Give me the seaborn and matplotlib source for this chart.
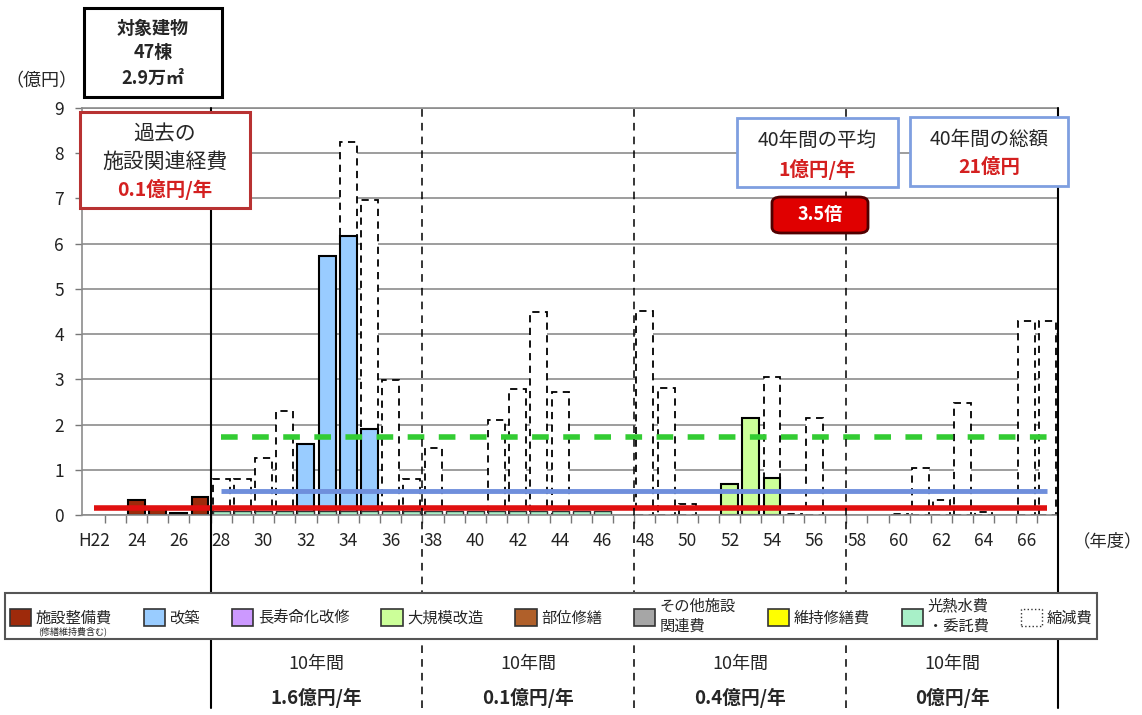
import matplotlib
matplotlib.use("Agg")
import matplotlib.pyplot as plt
from matplotlib.patches import Patch, Rectangle, FancyBboxPatch
import pandas as pd
import seaborn as sns

# --- DATA ---
years = list(range(22, 68))

# 施設整備費 (過去実績)
seibi_years = [24, 25, 26, 27]
seibi_vals = [0.33, 0.17, 0.05, 0.40]

# 改築
kaichiku_years = [32, 33, 34, 35]
kaichiku_vals = [1.50, 5.64, 6.10, 1.83]

# 大規模改造
daikibo_years = [52, 53, 54]
daikibo_vals = [0.69, 2.14, 0.81]

# 光熱水費・委託費 (small amounts at the bottom)
kounetsu_years = [28, 29, 30, 31, 32, 33, 34, 35, 36, 37, 38, 39, 40, 41, 42, 43, 44, 45, 46]
kounetsu_vals = [0.08, 0.08, 0.08, 0.08, 0.08, 0.08, 0.08, 0.08, 0.08, 0.08,
                 0.08, 0.08, 0.08, 0.08, 0.08, 0.08, 0.08, 0.08, 0.08]

# 縮減費 (stacked on top, dashed outline)
reduction_years = [28, 29, 30, 31, 34, 35, 36, 37, 38, 41, 42, 43, 44, 48, 49, 50,
                   54, 55, 56, 60, 61, 62, 63, 64, 66, 67]
reduction_vals = [0.71, 0.71, 1.19, 2.23, 2.07, 5.05, 2.90, 0.71, 1.40, 2.03, 2.70, 4.40, 2.64, 4.52, 2.81, 0.25,
                  2.25, 0.03, 2.14, 0.03, 1.03, 0.34, 2.47, 0.06, 4.29, 4.29]

# reference lines
past_level = 0.15       # 過去の施設関連経費
avg40_level = 0.53      # 40年間の平均
target_level = 1.72     # green dashed

period_starts = [28, 38, 48, 58]
period_texts = ["1.6億円/年", "0.1億円/年", "0.4億円/年", "0億円/年"]

legend_labels = ["施設整備費", "改築", "長寿命化改修", "大規模改造", "部位修繕",
                 "その他施設\n関連費", "維持修繕費", "光熱水費\n・委託費", "縮減費"]
legend_colors = ["#9E2A0B", "#99CCFF", "#CC99FF", "#CCFF99", "#B0602A",
                 "#A6A6A6", "#FFFF00", "#A8F0C8", "white"]

# --- STYLE ---
sns.set_theme(style="white")
plt.rcParams['font.family'] = ['Noto Sans CJK JP', 'DejaVu Sans']

W, H = 1142, 715
fig = plt.figure(figsize=(W / 100, H / 100), dpi=100)


def fx(x):
    return x / W


def fy(y):
    return 1 - y / H


ax = fig.add_axes([fx(82), fy(515), (1058 - 82) / W, (515 - 108) / H])

order = [str(y) for y in years]
kou = dict(zip(kounetsu_years, kounetsu_vals))
main = {}
for ys, vs in [(seibi_years, seibi_vals), (kaichiku_years, kaichiku_vals),
               (daikibo_years, daikibo_vals)]:
    for y, v in zip(ys, vs):
        main[y] = v

# total heights incl. reduction, drawn first (white + dashed)
red_df = pd.DataFrame({
    "year": [str(y) for y in reduction_years],
    "h": [kou.get(y, 0) + main.get(y, 0) + r for y, r in zip(reduction_years, reduction_vals)],
})
sns.barplot(data=red_df, x="year", y="h", order=order, color="white", saturation=1,
            edgecolor="black", linewidth=1.3, linestyle=(0, (4, 3)), errorbar=None, ax=ax)

# main categories
for ys, col in [(seibi_years, legend_colors[0]), (kaichiku_years, legend_colors[1]),
                (daikibo_years, legend_colors[3])]:
    d = pd.DataFrame({"year": [str(y) for y in ys],
                      "h": [kou.get(y, 0) + main[y] for y in ys]})
    sns.barplot(data=d, x="year", y="h", order=order, color=col, saturation=1,
                edgecolor="black", linewidth=1.5, errorbar=None, ax=ax)

kou_df = pd.DataFrame({"year": [str(y) for y in kounetsu_years], "h": kounetsu_vals})
sns.barplot(data=kou_df, x="year", y="h", order=order, color=legend_colors[7], saturation=1,
            edgecolor="#333333", linewidth=1.0, errorbar=None, ax=ax)

ax.set_xlim(-0.57, 45.5)
ax.set_ylim(0, 9)
ax.set_xlabel("")
ax.set_ylabel("")

# ticks: labels at category centres, tick marks at the boundaries
xlabels = []
for y in years:
    if y == 22:
        xlabels.append("H22")
    elif y % 2 == 0:
        xlabels.append(str(y))
    else:
        xlabels.append("")
ax.set_xticks(range(len(years)), xlabels)
ax.set_xticks([i + 0.5 for i in range(len(years) - 1)], minor=True)
ax.tick_params(axis="x", which="major", length=0, pad=12, labelsize=12.5, colors="#222222")
ax.tick_params(axis="x", which="minor", length=6, width=1, color="#777777", bottom=True)
ax.set_yticks(range(10))
ax.tick_params(axis="y", length=5, width=1, color="#777777", left=True, pad=8, labelsize=12.5,
               labelcolor="#222222")

ax.set_axisbelow(True)
ax.yaxis.grid(True, color="#8c8c8c", lw=1.2)
ax.xaxis.grid(False)
for s in ["left", "bottom", "top"]:
    ax.spines[s].set_color("#8c8c8c")
    ax.spines[s].set_linewidth(1.2)
ax.spines["right"].set_visible(False)

# level lines
ax.plot([0, 45], [past_level, past_level], color="#E01010", lw=4, zorder=7, solid_capstyle="butt")
ax.plot([6, 45], [avg40_level, avg40_level], color="#6F8FDC", lw=3.5, zorder=7, solid_capstyle="butt")
ax.plot([6, 45], [target_level, target_level], color="#33CC33", lw=4, zorder=7,
        linestyle=(0, (3, 2.6)))

# period dividers, running down through the table below the chart
ext = -(708 - 515) / (515 - 108)
ax.axvline(5.5, ymin=ext, ymax=1, color="black", lw=1.5, clip_on=False, zorder=8)
ax.axvline(45.5, ymin=ext, ymax=1, color="black", lw=1.5, clip_on=False, zorder=8)
for xv in [15.5, 25.5, 35.5]:
    ax.axvline(xv, ymin=ext, ymax=1, color="black", lw=1.1, linestyle=(0, (5, 4)),
               clip_on=False, zorder=8)

# period summaries
for start, txt in zip(period_starts, period_texts):
    xc = start - 22 + 4.5
    ax.text(xc, -(664 - 515) / 45.2, "10年間", ha="center", va="center", fontsize=13,
            clip_on=False)
    ax.text(xc, -(698 - 515) / 45.2, txt, ha="center", va="center", fontsize=13.5,
            fontweight="bold", clip_on=False)

# axis unit labels
fig.text(fx(41), fy(81), "（億円）", ha="center", va="center", fontsize=13)
fig.text(fx(1108), fy(541), "（年度）", ha="center", va="center", fontsize=12.5)


# annotation boxes
def box(x0, y0, x1, y1, ec, lw=2.0):
    fig.add_artist(Rectangle((fx(x0), fy(y1)), (x1 - x0) / W, (y1 - y0) / H,
                             transform=fig.transFigure, facecolor="white",
                             edgecolor=ec, lw=lw, zorder=10))


box(84, 8, 222, 97, "black", 2.2)
for yy, t in [(28, "対象建物"), (53, "47棟"), (78, "2.9万㎡")]:
    fig.text(fx(153), fy(yy), t, ha="center", va="center", fontsize=13, fontweight="bold", zorder=11)

box(80, 112, 250, 208, "#B83232", 2.2)
fig.text(fx(165), fy(134), "過去の", ha="center", va="center", fontsize=15, zorder=11)
fig.text(fx(165), fy(162), "施設関連経費", ha="center", va="center", fontsize=15, zorder=11)
fig.text(fx(165), fy(190), "0.1億円/年", ha="center", va="center", fontsize=14,
         fontweight="bold", color="#D42020", zorder=11)

box(737, 118, 898, 187, "#7F9FE0", 2.0)
fig.text(fx(817), fy(140), "40年間の平均", ha="center", va="center", fontsize=14, zorder=11)
fig.text(fx(817), fy(169), "1億円/年", ha="center", va="center", fontsize=14,
         fontweight="bold", color="#D42020", zorder=11)

box(910, 117, 1068, 186, "#7F9FE0", 2.0)
fig.text(fx(989), fy(139), "40年間の総額", ha="center", va="center", fontsize=14, zorder=11)
fig.text(fx(989), fy(167), "21億円", ha="center", va="center", fontsize=14,
         fontweight="bold", color="#D42020", zorder=11)

fig.add_artist(FancyBboxPatch((fx(772), fy(233)), (868 - 772) / W, (233 - 197) / H,
                              boxstyle="round,pad=0,rounding_size=0.008",
                              transform=fig.transFigure, facecolor="#E00000",
                              edgecolor="#500000", lw=2, zorder=10))
fig.text(fx(820), fy(215), "3.5倍", ha="center", va="center", fontsize=13,
         fontweight="bold", color="white", zorder=11)

# legend
handles = []
for i, c in enumerate(legend_colors):
    if i == len(legend_colors) - 1:
        handles.append(Patch(facecolor="white", edgecolor="#333333", lw=1.0, linestyle=":"))
    else:
        handles.append(Patch(facecolor=c, edgecolor="#333333", lw=1.2))
leg = fig.legend(handles, legend_labels, loc="center",
                 bbox_to_anchor=(fx(5), fy(640), (1097 - 5) / W, (640 - 592) / H),
                 mode="expand", ncol=9, fontsize=11, frameon=True, fancybox=False,
                 edgecolor="#555555", framealpha=1, handlelength=1.4, handleheight=1.4,
                 handletextpad=0.3, borderaxespad=0, borderpad=0.3, columnspacing=0.6)
leg.get_frame().set_linewidth(1.5)
leg.set_zorder(20)
fig.text(fx(38), fy(631), "(修繕維持費含む)", ha="left", va="center", fontsize=6.5, zorder=21)

fig.savefig("out.png", dpi=100)
